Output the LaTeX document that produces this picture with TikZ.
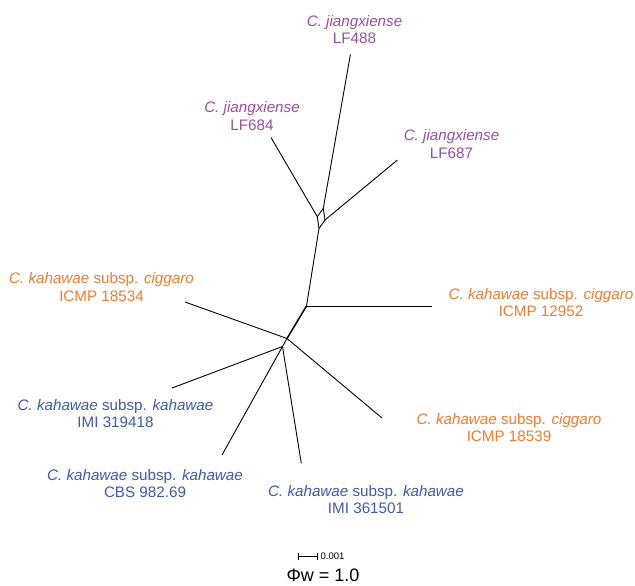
\documentclass[tikz,border=0pt]{standalone}
\usepackage{fontspec}
\setmainfont{Liberation Sans}
\usetikzlibrary{positioning}

\definecolor{jiang}{RGB}{152,78,163}
\definecolor{ciggaro}{RGB}{243,122,48}
\definecolor{kahawae}{RGB}{62,90,170}

\tikzstyle{split} = [draw,line width=0.9pt,-]
\tikzstyle{stem split} = [draw,line width=1.5pt,-]
\tikzstyle{taxon}=[align=center,inner sep=0pt,font=\fontsize{15.2}{17.8}\selectfont]
\tikzstyle{scalebar}=[draw,line width=0.6pt,|-|]

\begin{document}
\begin{tikzpicture}[x=1pt,y=-1pt]
      \useasboundingbox (0,0) rectangle (635,586);

      % split nodes and leaf ends
      \foreach \nodename/\x/\y in {
        t/323.3/208.3, l/317.3/216.7, r/325/220, b/319/228.5,
        na/306.5/306, nb/287/338.5, nc/282.5/346.5,
        lf488/350.4/54.5, lf684/271/137.5, lf687/397.4/160,
        cp12952/432.3/306, cp18534/185/302, cp18539/382/418,
        imi319418/172/388, cbs98269/222/455, imi361501/301.3/463.4}
      {
        \coordinate (\nodename) at (\x,\y);
      }

      %edges or lines
      \path
      \foreach \startnode/\endnode in {
        t/l, t/r, l/b, r/b, t/lf488, l/lf684, r/lf687,
        b/na, na/cp12952, nb/cp18534, nb/cp18539, nb/nc,
        nc/imi319418, nc/cbs98269, nc/imi361501}
      {
        (\startnode) edge[split] (\endnode)
      };
      \path (na) edge[stem split] (nb);

      % labels
      \foreach \nodename/\x/\y/\clr/\species/\strain in {
        lab488/354.5/29.5/jiang/\textit{C. jiangxiense}/LF488,
        lab684/252/116/jiang/\textit{C. jiangxiense}/LF684,
        lab687/451.5/144/jiang/\textit{C. jiangxiense}/LF687,
        lab18534/101.5/287/ciggaro/\textit{C. kahawae} subsp. \textit{ciggaro}/ICMP 18534,
        lab12952/541/302.5/ciggaro/\textit{C. kahawae} subsp. \textit{ciggaro}/ICMP 12952,
        lab18539/509/427.5/ciggaro/\textit{C. kahawae} subsp. \textit{ciggaro}/ICMP 18539,
        lab319418/115.5/413.5/kahawae/\textit{C. kahawae} subsp. \textit{kahawae}/IMI 319418,
        lab98269/145/483.5/kahawae/\textit{C. kahawae} subsp. \textit{kahawae}/CBS 982.69,
        lab361501/366/499.5/kahawae/\textit{C. kahawae} subsp. \textit{kahawae}/IMI 361501}
      {
        \node[taxon, text=\clr] (\nodename) at (\x,\y) {\species\\\strain};
      }

      % scale
      \coordinate (sl) at (298,556.5);
      \coordinate (sr) at (317.5,556.5);
      \path (sl) edge[scalebar] (sr);
      \node[right=3pt of sr, inner sep=0pt, font=\fontsize{9.5}{11}\selectfont] (scale) {0.001};
      \node[anchor=base, inner sep=0pt, font=\fontsize{18}{20}\selectfont] (phiw) at (323,581) {Φw = 1.0};

\end{tikzpicture}
\end{document}
